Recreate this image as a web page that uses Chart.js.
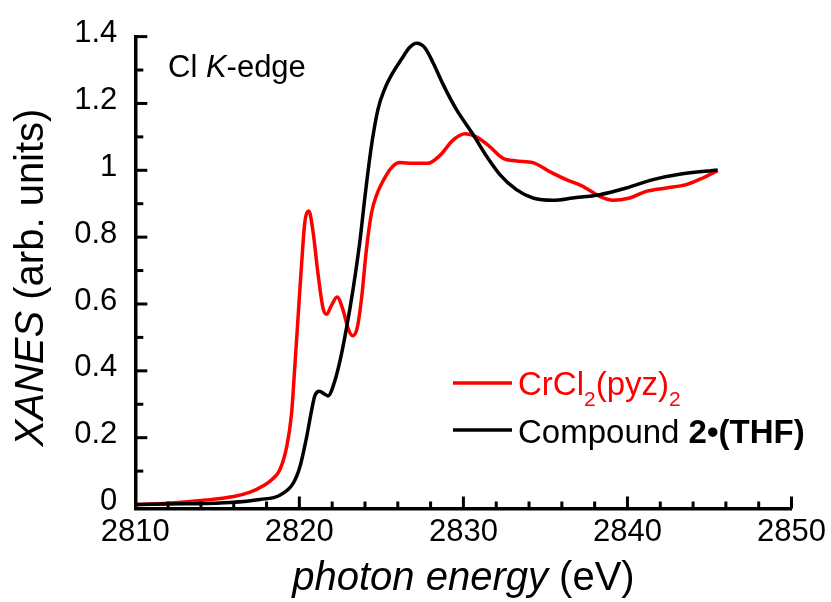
<!DOCTYPE html>
<html>
<head>
<meta charset="utf-8">
<script src="https://cdn.jsdelivr.net/npm/chart.js@4.4.0/dist/chart.umd.min.js"></script>
<style>
html, body { margin: 0; padding: 0; background: #fff; }
canvas { display: block; }
</style>
</head>
<body>
<canvas id="myChart" width="831" height="602"></canvas>
<script>
// CrCl2(pyz)2 spectrum
var redEnergy = [2810, 2812, 2814, 2816, 2817, 2817.8, 2818.4, 2818.81, 2819.22, 2819.52, 2819.73,
  2819.93, 2820.13, 2820.33, 2820.58, 2820.84, 2821.15, 2821.45, 2821.66, 2821.96, 2822.3, 2822.67,
  2822.97, 2823.24, 2823.52, 2823.79, 2824.09, 2824.4, 2824.7, 2825.31, 2825.7, 2826.12, 2826.93,
  2827.84, 2828.56, 2829.37, 2830.1, 2830.79, 2831.6, 2832.41, 2833.23, 2834.24, 2835.26, 2836.27,
  2837.28, 2838.3, 2839.11, 2840.13, 2841.14, 2842.36, 2843.58, 2844.59, 2845.5];
var redXanes = [0.0, 0.004, 0.012, 0.024, 0.037, 0.056, 0.078, 0.104, 0.171, 0.27, 0.418,
  0.567, 0.715, 0.843, 0.878, 0.814, 0.685, 0.586, 0.569, 0.596, 0.621, 0.581,
  0.527, 0.505, 0.527, 0.616, 0.764, 0.873, 0.925, 0.986, 1.012, 1.023, 1.021,
  1.021, 1.044, 1.09, 1.109, 1.1, 1.071, 1.036, 1.028, 1.023, 0.996, 0.972,
  0.952, 0.922, 0.91, 0.917, 0.937, 0.947, 0.957, 0.977, 0.999];

// Compound 2•(THF) spectrum
var blackEnergy = [2810, 2813, 2815.8, 2817.6, 2818.81, 2819.62, 2820.03, 2820.44, 2820.74, 2820.94, 2821.21,
  2821.55, 2821.75, 2822.06, 2822.47, 2822.87, 2823.28, 2823.68, 2824.02, 2824.4, 2824.8, 2825.2,
  2825.71, 2826.22, 2826.73, 2827.14, 2827.64, 2828.15, 2828.76, 2829.57, 2830.59, 2831.4, 2832.21,
  2833.23, 2834.24, 2835.46, 2836.67, 2838.3, 2839.93, 2841.55, 2843.17, 2845.5];
var blackXanes = [0.0, 0.002, 0.006, 0.015, 0.028, 0.063, 0.112, 0.201, 0.28, 0.325, 0.339,
  0.33, 0.325, 0.354, 0.428, 0.527, 0.646, 0.784, 0.93, 1.075, 1.184, 1.243,
  1.293, 1.332, 1.368, 1.38, 1.367, 1.322, 1.257, 1.182, 1.107, 1.043, 0.988,
  0.942, 0.917, 0.91, 0.917, 0.927, 0.947, 0.972, 0.988, 1.001];

var xTicks = [2810, 2820, 2830, 2840, 2850];
var yTicks = [0, 0.2, 0.4, 0.6, 0.8, 1, 1.2, 1.4];
var xMinorStep = 2;
var yMinorStep = 0.1;

var FONT = '"Liberation Sans", Arial, Helvetica, sans-serif';

function toPoints(xs, ys) {
  return xs.map(function (x, i) { return { x: x, y: ys[i] }; });
}

// draw a line of text made of runs with different fonts
function drawRuns(ctx, x, y, runs, align) {
  var total = 0;
  runs.forEach(function (r) { ctx.font = r.font; total += ctx.measureText(r.text).width; });
  var cx = align === 'center' ? x - total / 2 : x;
  runs.forEach(function (r) {
    ctx.font = r.font;
    ctx.fillStyle = r.color || '#000';
    ctx.fillText(r.text, cx, y + (r.dy || 0));
    cx += ctx.measureText(r.text).width;
  });
}

// ticks pointing into the plot, like the original figure
var inwardTicks = {
  id: 'inwardTicks',
  afterDraw: function (chart) {
    var ctx = chart.ctx, xs = chart.scales.x, ys = chart.scales.y, a = chart.chartArea;
    ctx.save();
    ctx.strokeStyle = '#000';
    ctx.lineWidth = 3;
    for (var e = xs.min + xMinorStep; e <= xs.max + 0.001; e += xMinorStep) {
      var px = xs.getPixelForValue(e);
      var major = xTicks.indexOf(Math.round(e)) >= 0;
      ctx.beginPath();
      ctx.moveTo(px, a.bottom);
      ctx.lineTo(px, a.bottom - (major ? 12 : 7));
      ctx.stroke();
    }
    for (var k = 0; k <= 14; k++) {
      var v = k * yMinorStep;
      var py = ys.getPixelForValue(v);
      ctx.beginPath();
      ctx.moveTo(a.left, py);
      ctx.lineTo(a.left + (k % 2 === 0 ? 12 : 8), py);
      ctx.stroke();
    }
    ctx.restore();
  }
};

var labels = {
  id: 'labels',
  afterDraw: function (chart) {
    var ctx = chart.ctx, a = chart.chartArea;
    ctx.save();
    ctx.textBaseline = 'alphabetic';
    ctx.textAlign = 'left';

    // x axis title
    drawRuns(ctx, (a.left + a.right) / 2, 590, [
      { text: 'photon energy', font: 'italic 40px ' + FONT },
      { text: ' (eV)', font: '40px ' + FONT }
    ], 'center');

    // y axis title
    ctx.save();
    ctx.translate(43, 277.5);
    ctx.rotate(-Math.PI / 2);
    drawRuns(ctx, 0, 0, [
      { text: 'XANES', font: 'italic 40px ' + FONT },
      { text: ' (arb. units)', font: '40px ' + FONT }
    ], 'center');
    ctx.restore();

    // annotation
    drawRuns(ctx, 168, 77, [
      { text: 'Cl ', font: '31px ' + FONT },
      { text: 'K', font: 'italic 31px ' + FONT },
      { text: '-edge', font: '31px ' + FONT }
    ]);

    // legend
    ctx.lineWidth = 3.5;
    ctx.strokeStyle = '#ff0000';
    ctx.beginPath(); ctx.moveTo(453, 383); ctx.lineTo(512, 383); ctx.stroke();
    ctx.strokeStyle = '#000';
    ctx.beginPath(); ctx.moveTo(453, 430); ctx.lineTo(512, 430); ctx.stroke();

    drawRuns(ctx, 518, 395, [
      { text: 'CrCl', font: '33px ' + FONT, color: '#ff0000' },
      { text: '2', font: '21px ' + FONT, color: '#ff0000', dy: 11 },
      { text: '(pyz)', font: '33px ' + FONT, color: '#ff0000' },
      { text: '2', font: '21px ' + FONT, color: '#ff0000', dy: 11 }
    ]);
    drawRuns(ctx, 518, 443, [
      { text: 'Compound ', font: '33px ' + FONT },
      { text: '2\u2022(THF)', font: 'bold 33px ' + FONT }
    ]);
    ctx.restore();
  }
};

var ctx = document.getElementById('myChart').getContext('2d');
var chart = new Chart(ctx, {
  type: 'line',
  data: {
    datasets: [{
      label: 'CrCl2(pyz)2',
      data: toPoints(redEnergy, redXanes),
      borderColor: '#ff0000',
      borderWidth: 3.5,
      pointRadius: 0,
      cubicInterpolationMode: 'monotone',
      fill: false,
      order: 1
    }, {
      label: 'Compound 2\u2022(THF)',
      data: toPoints(blackEnergy, blackXanes),
      borderColor: '#000000',
      borderWidth: 3.5,
      pointRadius: 0,
      cubicInterpolationMode: 'monotone',
      fill: false,
      order: 0
    }]
  },
  options: {
    responsive: false,
    animation: false,
    devicePixelRatio: 1,
    layout: { padding: { top: 31.7, right: 39, left: 0, bottom: 0 } },
    plugins: {
      legend: { display: false },
      tooltip: { enabled: false },
      title: { display: false }
    },
    scales: {
      x: {
        type: 'linear',
        min: 2810,
        max: 2850,
        afterBuildTicks: function (scale) {
          scale.ticks = xTicks.map(function (v) { return { value: v }; });
        },
        afterFit: function (scale) { scale.height = 93.5; },
        grid: { display: false, drawTicks: false },
        border: { display: true, color: '#000', width: 3.5 },
        ticks: {
          color: '#000',
          padding: 5,
          maxRotation: 0,
          font: { family: FONT, size: 31 },
          callback: function (v) { return String(v); }
        }
      },
      y: {
        type: 'linear',
        min: -0.0119,
        max: 1.4,
        afterBuildTicks: function (scale) {
          scale.ticks = yTicks.map(function (v) { return { value: v }; });
        },
        afterFit: function (scale) { scale.width = 135.3; },
        grid: { display: false, drawTicks: false },
        border: { display: true, color: '#000', width: 3.5 },
        ticks: {
          color: '#000',
          padding: 18,
          labelOffset: -3,
          font: { family: FONT, size: 31 },
          callback: function (v) { return String(Math.round(v * 10) / 10); }
        }
      }
    }
  },
  plugins: [inwardTicks, labels]
});
</script>
</body>
</html>
